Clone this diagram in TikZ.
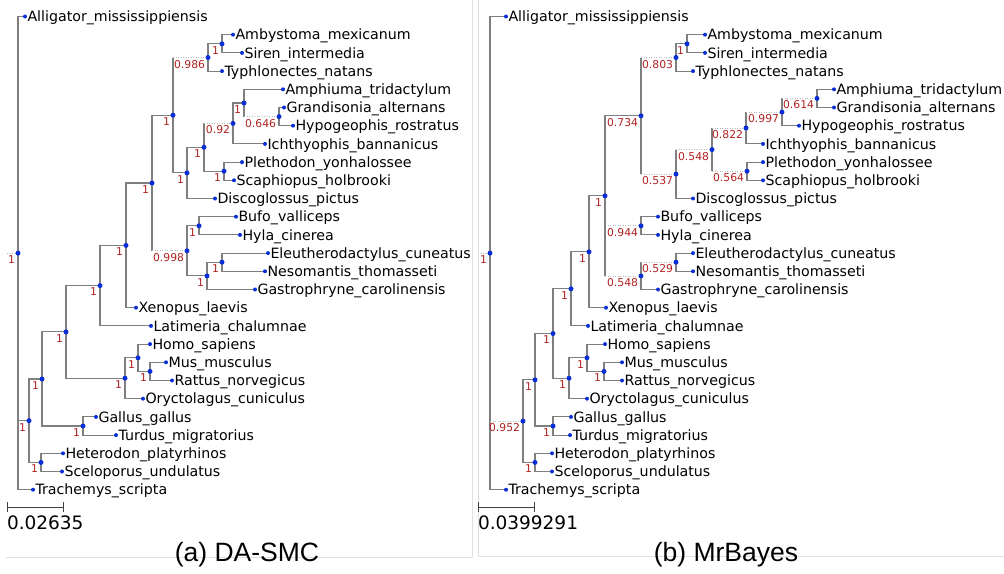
\documentclass[tikz,border=0pt]{standalone}
\usepackage{fontspec}
\setmainfont{DejaVu Sans}
\newfontfamily\capfont{Liberation Sans}
\usepackage{tikz}
\usetikzlibrary{arrows.meta,backgrounds}
\definecolor{branchgrey}{HTML}{7F7F7F}
\definecolor{dottedgrey}{HTML}{B8B8B8}
\definecolor{dotblue}{HTML}{0A2FD6}
\definecolor{suppred}{HTML}{B22222}
\definecolor{framegrey}{HTML}{E0E0E0}

\begin{document}
\begin{tikzpicture}[x=1pt, y=-1pt,
  every node/.append style={inner sep=0pt, outer sep=0pt},
  branch/.style={draw=branchgrey, line width=1.1pt},
  dotbranch/.style={draw=dottedgrey, line width=0.8pt, dash pattern=on 1pt off 1.5pt},
  leafdot/.style={circle, fill=dotblue, minimum size=4pt},
  idot/.style={circle, fill=dotblue, minimum size=5pt},
  taxon/.style={anchor=base west, font=\fontsize{14.2pt}{17pt}\selectfont},
  supp/.style={anchor=north east, text=suppred, font=\fontsize{10.8pt}{12pt}\selectfont},
  scalebar/.style={draw=black!75, line width=1pt, arrows={Bar[width=10pt]-Bar[width=10pt]}},
  scaletxt/.style={anchor=base west, font=\fontsize{18.5pt}{22pt}\selectfont},
  captxt/.style={anchor=base, font=\capfont\fontsize{26.5pt}{30pt}\selectfont},
  frame/.style={draw=framegrey, line width=0.8pt}
]
\useasboundingbox (0,0) rectangle (1004,573);

% panel frames
\draw[frame] (472,0) -- (472,557) -- (6,557);
\draw[frame] (478,0) -- (478,556) -- (1004,556);

% leaves: row / x in (a) / x in (b) / name
\foreach \r/\xa/\xb/\tx in {
  1/25/506/Alligator\_mississippiensis,
  2/233/705/Ambystoma\_mexicanum,
  3/242/705/Siren\_intermedia,
  4/222/693/Typhlonectes\_natans,
  5/283/834/Amphiuma\_tridactylum,
  6/284/834/Grandisonia\_alternans,
  7/293/799/Hypogeophis\_rostratus,
  8/265/763/Ichthyophis\_bannanicus,
  9/242/763/Plethodon\_yonhalossee,
  10/234/763/Scaphiopus\_holbrooki,
  11/215/693/Discoglossus\_pictus,
  12/236/658/Bufo\_valliceps,
  13/240/658/Hyla\_cinerea,
  14/268/693/Eleutherodactylus\_cuneatus,
  15/265/693/Nesomantis\_thomasseti,
  16/255/658/Gastrophryne\_carolinensis,
  17/136/606/Xenopus\_laevis,
  18/151/588/Latimeria\_chalumnae,
  19/150/605/Homo\_sapiens,
  20/166/622/Mus\_musculus,
  21/172/622/Rattus\_norvegicus,
  22/143/587/Oryctolagus\_cuniculus,
  23/96/571/Gallus\_gallus,
  24/116/570/Turdus\_migratorius,
  25/63/552/Heterodon\_platyrhinos,
  26/62/552/Sceloporus\_undulatus,
  27/33/506/Trachemys\_scripta}{
  \pgfmathsetmacro\yy{16.5+18.2*(\r-1)}
  \node[leafdot] (aL\r) at (\xa,\yy) {};
  \node[taxon] (aT\r) at (\xa+2.5,\yy+5.2) {\tx};
  \node[leafdot] (bL\r) at (\xb,\yy) {};
  \node[taxon] (bT\r) at (\xb+2.5,\yy+5.2) {\tx};
}

% internal nodes with support values
\foreach \n/\x/\y/\s in {
  a0/18/253.1/1, a1/29/420.7/1, a2/42/379/1, a3/41/462.4/1, a4/66/331.9/1,
  a5/83/426/1, a6/100/285.6/1, a7/125/378.2/1, a8/138/357.8/1, a9/150/371.4/1,
  a10/126/245.4/1, a11/152/183/1, a12/173/115.2/1, a13/187/250.8/0.998,
  a14/199/225.8/1, a15/207/275.9/1, a16/222/262.2/1, a17/208/57.5/0.986,
  a18/222/43.8/1, a19/187/172.9/1, a20/204/147.3/1, a21/233/123.4/0.92,
  a22/244/103/1, a23/279/116.6/0.646, a24/224/171.2/1,
  b0/490/253.1/1, b1/523/421.1/0.952, b2/535/379.8/1, b3/535/462.4/1,
  b4/553/333.5/1, b5/553/426/1, b6/571/288.8/1, b7/569/378.2/1, b8/587/357.8/1,
  b9/604/371.4/1, b10/589/251.8/1, b11/605/195.8/1, b12/641/115.8/0.734,
  b13/641/225.8/0.944, b14/641/275.9/0.548, b15/676/262.2/0.529,
  b16/676/57.5/0.803, b17/687/43.8/1, b18/676/174.1/0.537, b19/712/149.6/0.548,
  b20/746/128/0.822, b21/782/112.1/0.997, b22/817/98.4/0.614, b23/747/171.2/0.564}{
  \node[idot] (\n) at (\x,\y) {};
  \node[supp] (s\n) at (\x-3,\y+2.5) {\s};
}

\coordinate (a0in) at (7,253.1);
\coordinate (b0in) at (478,253.1);

\begin{scope}[on background layer]
\foreach \p/\c in {
  a0/aL1, a0/a1, a0/aL27, a1/a2, a1/a3, a3/aL25, a3/aL26, a2/a4, a2/a5,
  a5/aL23, a5/aL24, a4/a6, a4/a7, a7/a8, a7/aL22, a8/aL19, a8/a9, a9/aL20,
  a9/aL21, a6/a10, a6/aL18, a10/a11, a10/aL17, a11/a12, a13/a14, a13/a15,
  a14/aL12, a14/aL13, a15/a16, a15/aL16, a16/aL14, a16/aL15, a12/a19,
  a17/a18, a17/aL4, a18/aL2, a18/aL3, a19/a20, a19/aL11, a20/a24, a21/a22,
  a21/aL8, a22/aL5, a23/aL6, a23/aL7, a24/aL9, a24/aL10,
  b0/bL1, b0/bL27, b1/b2, b1/b3, b3/bL25, b3/bL26, b2/b4, b2/b5, b5/bL23,
  b5/bL24, b4/b6, b4/b7, b7/b8, b7/bL22, b8/bL19, b8/b9, b9/bL20, b9/bL21,
  b6/b10, b6/bL18, b10/b11, b10/bL17, b14/bL16, b15/bL14, b15/bL15,
  b13/bL12, b13/bL13, b16/b17, b16/bL4, b17/bL2, b17/bL3, b18/bL11,
  b20/bL8, b21/bL7, b22/bL5, b22/bL6, b23/bL9, b23/bL10, b11/b12}
  \draw[branch] (\p.center) |- (\c.center);
% short branches stretched by their labels
\foreach \p/\c in {
  a11/a13, a12/a17, a20/a21, a22/a23,
  b0/b1, b11/b13, b11/b14, b14/b15, b12/b16, b12/b18, b18/b19,
  b19/b20, b19/b23, b20/b21, b21/b22}{
  \draw[branch] (\p.center) -- (\p.center |- \c.center);
  \draw[dotbranch] (\p.center |- \c.center) -- (\c.center);
}
\draw[dotbranch] (a0in) -- (a0.center);
\draw[dotbranch] (b0in) -- (b0.center);
\end{scope}

% scale bars
\coordinate (asb0) at (7,507);
\coordinate (asb1) at (64,507);
\coordinate (bsb0) at (478,507);
\coordinate (bsb1) at (535,507);
\draw[scalebar] (asb0) -- (asb1);
\draw[scalebar] (bsb0) -- (bsb1);
\node[scaletxt] (asT) at (7,529) {0.02635};
\node[scaletxt] (bsT) at (478,529) {0.0399291};

\node[captxt] (capA) at (247,561) {(a) DA-SMC};
\node[captxt] (capB) at (726,561) {(b) MrBayes};
\end{tikzpicture}
\end{document}
